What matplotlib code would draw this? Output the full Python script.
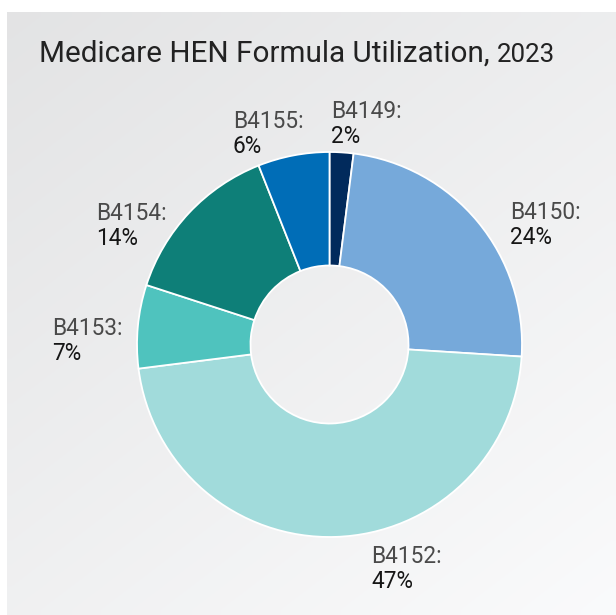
import matplotlib
matplotlib.use("Agg")
import matplotlib.pyplot as plt
import numpy as np

plt.rcParams['font.family'] = ['Roboto', 'DejaVu Sans']

categories = ["B4149", "B4150", "B4152", "B4153", "B4154", "B4155"]
shares = [2, 24, 47, 7, 14, 6]
colors = ["#012a5c", "#76a9da", "#a1dbdb", "#4fc3be", "#0e7f78", "#006db7"]
title_main = "Medicare HEN Formula Utilization, "
title_year = "2023"

W, H = 616, 615
fig = plt.figure(figsize=(W / 100, H / 100), dpi=100)
ax = fig.add_axes([0, 0, 1, 1])
ax.set_xlim(0, W)
ax.set_ylim(0, H)
ax.set_aspect('equal')
ax.axis('off')

# background panel with soft gradient
x0, y0 = 7, 12  # panel top-left (pixel, from top)
gx = np.linspace(0, 1, 64)
gy = np.linspace(0, 1, 64)
GX, GY = np.meshgrid(gx, gy)
val = (227 + 10 * GX + 13 * GY) / 255.0
img = np.dstack([val, val + 0.002, val + 0.006])
img = np.clip(img, 0, 1)
ax.imshow(img, extent=[x0, W, 0, H - y0], origin='upper', aspect='auto', zorder=0,
          interpolation='bilinear')

cx, cy = 329.5, H - 344.5
r_out, r_in = 192.5, 79
ax.pie(shares, colors=colors, startangle=90, counterclock=False,
       center=(cx, cy), radius=r_out, frame=True,
       wedgeprops=dict(width=r_out - r_in, edgecolor='white', linewidth=1.3))
ax.set_xlim(0, W)
ax.set_ylim(0, H)
ax.axis('off')

# labels: (left x, baseline y of name line) in pixels from top-left
label_pos = {
    "B4149": (331, 118),
    "B4150": (510, 219),
    "B4152": (371, 563),
    "B4153": (52, 335),
    "B4154": (96, 220),
    "B4155": (233, 128),
}
for cat, val_ in zip(categories, shares):
    lx, ly = label_pos[cat]
    ax.text(lx, H - ly, cat + ":", ha='left', va='baseline', fontsize=16.3,
            fontweight='normal', color='#4a4a4a', zorder=5)
    ax.text(lx, H - ly - 25, f"{val_}%", ha='left', va='baseline', fontsize=16.3,
            fontweight='normal', color='#161616', zorder=5)

t1 = ax.text(39, H - 62, title_main, ha='left', va='baseline', fontsize=21.3,
             color='#222222', zorder=5)
fig.canvas.draw()
bb = t1.get_window_extent()
ax.text(bb.x1, H - 62, title_year, ha='left', va='baseline', fontsize=18.6,
        color='#222222', zorder=5)

fig.savefig("out.png", dpi=100, facecolor='white')
